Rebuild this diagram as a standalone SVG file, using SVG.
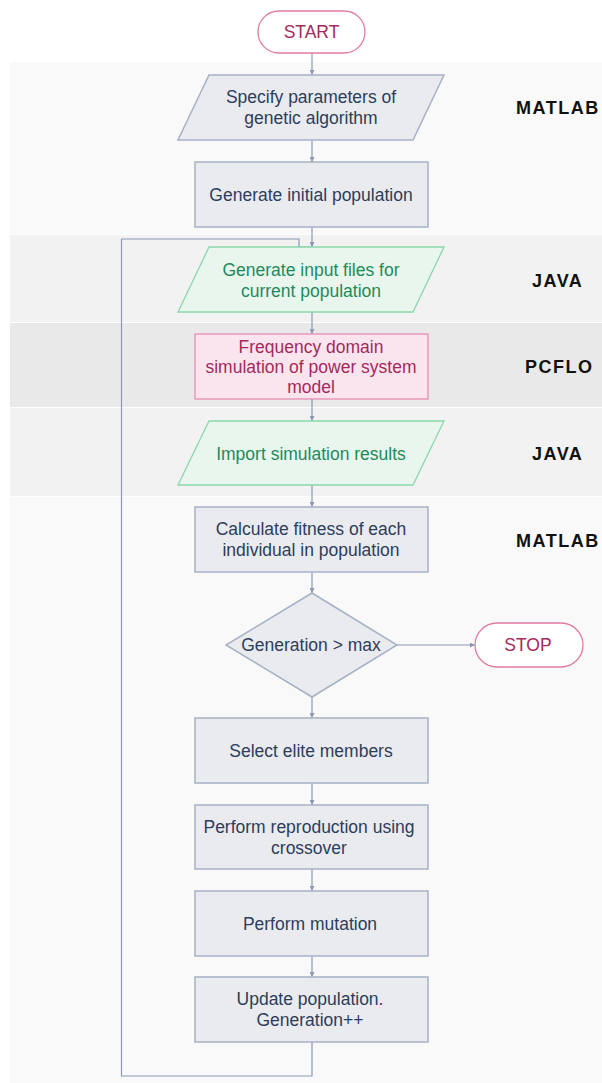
<svg xmlns="http://www.w3.org/2000/svg" width="602" height="1083" viewBox="0 0 602 1083">
<style>
.t{font-family:"Liberation Sans",Arial,sans-serif;font-size:17.5px;text-anchor:middle}
.n{fill:#2d3d5c}.g{fill:#1e8a5c}.p{fill:#a32a5c}
.lab{font-family:"Liberation Sans",Arial,sans-serif;font-size:18px;font-weight:bold;letter-spacing:1.5px;fill:#111}
.gray{fill:#e9ebef;stroke:#a7b1c6;stroke-width:1.5}
.green{fill:#e8f6ee;stroke:#8ad8ab;stroke-width:1.3}
.pink{fill:#fae5ef;stroke:#e88db2;stroke-width:1.3}
.term{fill:#fff;stroke:#e27aa4;stroke-width:1.3}
.c{fill:none;stroke:#8d98b3;stroke-width:1.2}
</style>
<defs>
<marker id="a" viewBox="0 0 6 6" refX="6" refY="3" markerWidth="5" markerHeight="5" orient="auto" markerUnits="userSpaceOnUse">
<path d="M0,0 L6,3 L0,6 z" fill="#8d98b3"/>
</marker>
</defs>
<rect width="602" height="1083" fill="#fff"/>
<g id="bands">
<rect x="10" y="62" width="592" height="172" fill="#f9f9f9"/>
<rect x="10" y="235" width="592" height="87" fill="#f2f2f2"/>
<rect x="10" y="323" width="592" height="84" fill="#e9e9e9"/>
<rect x="10" y="408" width="592" height="88" fill="#f2f2f2"/>
<rect x="10" y="497" width="592" height="586" fill="#f9f9f9"/>
</g>
<g id="labels">
<text class="lab" x="516" y="114">MATLAB</text>
<text class="lab" x="532" y="287">JAVA</text>
<text class="lab" x="525" y="373">PCFLO</text>
<text class="lab" x="532" y="460">JAVA</text>
<text class="lab" x="516" y="547">MATLAB</text>
</g>
<g id="connectors">
<path class="c" d="M312,53 V75" marker-end="url(#a)"/>
<path class="c" d="M312,140 V162" marker-end="url(#a)"/>
<path class="c" d="M312,227 V247" marker-end="url(#a)"/>
<path class="c" d="M312,312 V334" marker-end="url(#a)"/>
<path class="c" d="M312,399 V421" marker-end="url(#a)"/>
<path class="c" d="M312,485 V507" marker-end="url(#a)"/>
<path class="c" d="M312,572 V593" marker-end="url(#a)"/>
<path class="c" d="M397,645 H475" marker-end="url(#a)"/>
<path class="c" d="M312,697 V718" marker-end="url(#a)"/>
<path class="c" d="M312,783 V805" marker-end="url(#a)"/>
<path class="c" d="M312,869 V891" marker-end="url(#a)"/>
<path class="c" d="M312,956 V977" marker-end="url(#a)"/>
<path class="c" d="M312,1042 V1076 H121.5 V239 H299 V247 H311"/>
</g>
<g id="start">
<rect class="term" x="258" y="11" width="107" height="42" rx="21"/>
<text class="t p" x="311.5" y="38">START</text>
</g>
<g id="specify">
<polygon class="gray" points="209,75 444,75 413,140 178,140"/>
<text class="t n" x="311" y="103">Specify parameters of</text>
<text class="t n" x="311" y="124">genetic algorithm</text>
</g>
<g id="init">
<rect class="gray" x="195" y="162" width="233" height="65"/>
<text class="t n" x="311" y="201">Generate initial population</text>
</g>
<g id="genfiles">
<polygon class="green" points="209,247 444,247 413,312 178,312"/>
<text class="t g" x="311" y="276">Generate input files for</text>
<text class="t g" x="311" y="297">current population</text>
</g>
<g id="pcflo">
<rect class="pink" x="195" y="334" width="233" height="65"/>
<text class="t p" x="311" y="353">Frequency domain</text>
<text class="t p" x="311" y="373">simulation of power system</text>
<text class="t p" x="311" y="393">model</text>
</g>
<g id="import">
<polygon class="green" points="209,421 444,421 413,485 178,485"/>
<text class="t g" x="311" y="460">Import simulation results</text>
</g>
<g id="fitness">
<rect class="gray" x="195" y="507" width="233" height="65"/>
<text class="t n" x="311" y="535">Calculate fitness of each</text>
<text class="t n" x="311" y="556">individual in population</text>
</g>
<g id="decision">
<polygon class="gray" points="312,593 397,645 312,697 226,645"/>
<text class="t n" x="311" y="651">Generation &gt; max</text>
</g>
<g id="stop">
<rect class="term" x="475" y="623" width="108" height="44" rx="22"/>
<text class="t p" x="528" y="651">STOP</text>
</g>
<g id="elite">
<rect class="gray" x="195" y="718" width="233" height="65"/>
<text class="t n" x="311" y="757">Select elite members</text>
</g>
<g id="crossover">
<rect class="gray" x="195" y="805" width="233" height="64"/>
<text class="t n" x="309" y="833">Perform reproduction using</text>
<text class="t n" x="309" y="854">crossover</text>
</g>
<g id="mutation">
<rect class="gray" x="195" y="891" width="233" height="65"/>
<text class="t n" x="310" y="930">Perform mutation</text>
</g>
<g id="update">
<rect class="gray" x="195" y="977" width="233" height="65"/>
<text class="t n" x="310" y="1005">Update population.</text>
<text class="t n" x="310" y="1026">Generation++</text>
</g>
</svg>
